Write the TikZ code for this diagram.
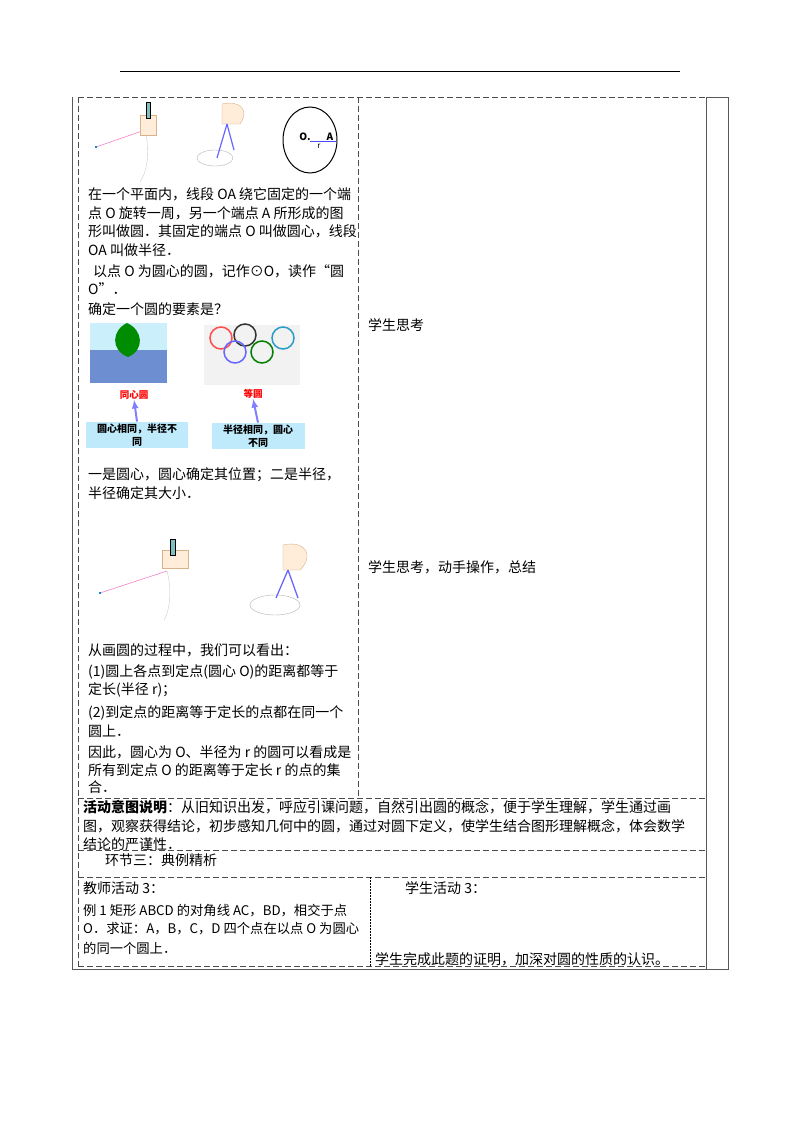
\documentclass[tikz,border=0pt]{standalone}
\usepackage{fontspec}
\setmainfont{Noto Sans CJK SC}
\begin{document}
\begin{tikzpicture}[x=1pt,y=-1pt,
  tx/.style={anchor=west,inner sep=0pt,font=\fontsize{14}{18}\selectfont,align=left},
  txs/.style={tx,font=\fontsize{13.3}{18}\selectfont},
  dl/.style={dash pattern=on 6pt off 3pt,line width=0.8pt,gray!60!black},
  sl/.style={line width=0.8pt,gray!70!black},
  cbox/.style={fill=cyan!25,inner sep=2pt,align=center,font=\bfseries\fontsize{10}{13}\selectfont},
  hand/.style={fill=orange!15,draw=brown!60,line width=0.4pt}]
\useasboundingbox (0,0) rectangle (800,1132);
% header line
\draw[line width=1pt] (120,72) -- (680,72);
% outer solid
\draw[sl] (72,97) -- (72,969) -- (728,969) -- (728,97) -- (706,97);
\draw[sl] (706,97) -- (706,969);
% dashed grid
\draw[dl] (78,97) -- (706,97);
\draw[dl] (78,97) -- (78,966);
\draw[dl] (358,97) -- (358,798);
\draw[dl] (78,798) -- (706,798);
\draw[dl] (78,850) -- (706,850);
\draw[dl] (78,877) -- (706,877);
\draw[dl] (78,966) -- (706,966);
\draw[dash pattern=on 2pt off 1pt,line width=0.8pt] (370,877) -- (370,966);
% pictures row 1
\draw[magenta!50,line width=0.6pt] (96,147) -- (145,130);
\node[fill=cyan!70!blue,inner sep=1.2pt] (pin1) at (96,147) {};
\draw[gray!40] (145,130) .. controls (150,150) and (148,170) .. (140,182);
\draw[hand] (140,115) rectangle (156,135);
\draw[fill=teal!50] (146,102) rectangle (150,118);
\draw[gray!60] (215,158) ellipse (18pt and 8pt);
\draw[hand] (222,104) .. controls (240,100) and (250,110) .. (240,124) -- (222,124) -- cycle;
\draw[blue!60,line width=1.2pt] (227,124) -- (217,158);
\draw[blue!60,line width=1.2pt] (227,124) -- (234,150);
\draw[line width=1pt] (310,140) ellipse (27pt and 33pt);
\draw[blue!70,line width=0.8pt] (310,141) -- (336,141);
\node[inner sep=0pt,font=\bfseries\fontsize{10}{12}\selectfont] (olab) at (305,137) {O.};
\node[inner sep=0pt,font=\bfseries\fontsize{10}{12}\selectfont] (alab) at (330,137) {A};
\node[inner sep=0pt,font=\itshape\fontsize{8}{10}\selectfont] (rlab) at (319,146) {r};
% paragraphs
\node[tx] (p1) at (88,194) {在一个平面内，线段 OA 绕它固定的一个端};
\node[tx] (p2) at (88,213) {点 O 旋转一周，另一个端点 A 所形成的图};
\node[tx] (p3) at (88,231) {形叫做圆．其固定的端点 O 叫做圆心，线段};
\node[tx] (p4) at (88,250) {OA 叫做半径．};
\node[tx] (p5) at (93,271) {以点 O 为圆心的圆，记作⊙O，读作“圆};
\node[tx] (p6) at (88,289) {O”．};
\node[tx] (p7) at (88,309) {确定一个圆的要素是？};
% images
\fill[cyan!40!blue!60] (90,350) rectangle (167,383);
\fill[white!80!cyan] (90,323) rectangle (167,350);
\fill[green!55!black] (127,323) .. controls (143,330) and (145,350) .. (128,357) .. controls (110,350) and (112,330) .. (127,323);
\fill[gray!10] (204,325) rectangle (300,385);
\draw[red!70,line width=1.5pt] (221,338) circle (11pt);
\draw[black!80,line width=1.5pt] (245,335) circle (11pt);
\draw[cyan!60!teal,line width=1.5pt] (283,338) circle (11pt);
\draw[blue!60,line width=1.5pt] (235,352) circle (11pt);
\draw[green!50!black,line width=1.5pt] (262,352) circle (11pt);
\node[inner sep=0pt,text=red,font=\bfseries\fontsize{9.5}{11}\selectfont] (l1) at (134,395) {同心圆};
\node[inner sep=0pt,text=red,font=\bfseries\fontsize{9.5}{11}\selectfont] (l2) at (253,394) {等圆};
\node[cbox,text width=98pt] (b1) at (137,435) {圆心相同，半径不\\同};
\node[cbox,text width=89pt] (b2) at (258,436) {半径相同，圆心\\不同};
\draw[-latex,blue!50,line width=2pt] (b1.north) -- (l1.south);
\draw[-latex,blue!50,line width=2pt] (b2.north) -- (l2.south);
\node[tx] (p8) at (88,475) {一是圆心，圆心确定其位置；二是半径，};
\node[tx] (p9) at (88,493) {半径确定其大小．};
% pictures row 2
\draw[magenta!50,line width=0.6pt] (100,593) -- (167,571);
\node[fill=cyan!70!blue,inner sep=1.2pt] (pin2) at (100,593) {};
\draw[gray!40] (167,571) .. controls (172,590) and (170,610) .. (164,620);
\draw[hand] (162,550) rectangle (188,568);
\draw[fill=teal!50] (170,539) rectangle (175,555);
\draw[gray!60] (275,605) ellipse (25pt and 10pt);
\draw[hand] (283,545) .. controls (305,540) and (315,555) .. (300,570) -- (283,570) -- cycle;
\draw[blue!60,line width=1.3pt] (288,570) -- (276,598);
\draw[blue!60,line width=1.3pt] (288,570) -- (298,598);
% second part text
\node[tx] (q1) at (88,650) {从画圆的过程中，我们可以看出：};
\node[tx] (q2) at (88,672) {(1)圆上各点到定点(圆心 O)的距离都等于};
\node[tx] (q3) at (88,690) {定长(半径 r)；};
\node[tx] (q4) at (88,713) {(2)到定点的距离等于定长的点都在同一个};
\node[tx] (q5) at (88,731) {圆上．};
\node[tx] (q6) at (88,752) {因此，圆心为 O、半径为 r 的圆可以看成是};
\node[tx] (q7) at (88,770) {所有到定点 O 的距离等于定长 r 的点的集};
\node[tx] (q8) at (88,787) {合．};
% right column
\node[tx] (r1) at (368,325) {学生思考};
\node[tx] (r2) at (368,567) {学生思考，动手操作，总结};
% intent
\node[tx] (i1) at (83,807) {\textbf{活动意图说明}：从旧知识出发，呼应引课问题，自然引出圆的概念，便于学生理解，学生通过画};
\node[tx] (i2) at (83,826) {图，观察获得结论，初步感知几何中的圆，通过对圆下定义，使学生结合图形理解概念，体会数学};
\node[tx] (i3) at (83,844) {结论的严谨性．};
\node[tx] (h3) at (105,860) {环节三：典例精析};
\node[tx] (t1) at (83,888) {教师活动 3：};
\node[txs] (t2) at (83,911) {例 1 矩形 ABCD 的对角线 AC，BD，相交于点};
\node[txs] (t3) at (83,929) {O．求证：A，B，C，D 四个点在以点 O 为圆心};
\node[txs] (t4) at (83,948) {的同一个圆上．};
\node[tx] (s1) at (405,888) {学生活动 3：};
\node[tx] (s2) at (375,959) {学生完成此题的证明，加深对圆的性质的认识。};
\end{tikzpicture}
\end{document}
